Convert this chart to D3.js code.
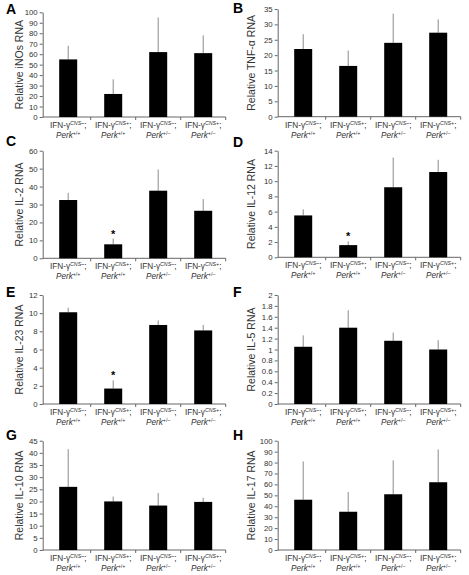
<!DOCTYPE html>
<html><head><meta charset="utf-8">
<script src="https://cdn.jsdelivr.net/npm/d3@7"></script>
<style>
html,body{margin:0;padding:0;background:#fff;}
svg{display:block;font-family:"Liberation Sans",Arial,Helvetica,sans-serif;}
</style></head>
<body>
<svg id="chart" width="469" height="575"></svg>
<script>
// ---- data ----
const categories = ["g1","g2","g3","g4"];
const cnsLabels = ["CNS–","CNS+","CNS–","CNS+"];
const perkLabels = ["+/+","+/+","+/–","+/–"];
const panelLetters = ["A","B","C","D","E","F","G","H"];
const yTitles = ["Relative iNOs RNA","Relative TNF-α RNA","Relative IL-2 RNA","Relative IL-12 RNA",
                 "Relative IL-23 RNA","Relative IL-5 RNA","Relative IL-10 RNA","Relative IL-17 RNA"];
const yMaxes = [100,35,60,14,12,2,45,100];
const ySteps = [10,5,10,2,2,0.2,5,10];
const iNOsMean = [55,22,62,61];        const iNOsTop = [68,36,95,78];
const tnfMean = [22,16.5,24,27.3];     const tnfTop = [26.8,21.5,33.5,31.6];
const il2Mean = [32.5,7.8,37.7,26.5];  const il2Top = [36.5,11,49.5,33];
const il12Mean = [5.5,1.6,9.2,11.2];   const il12Top = [6.3,2.1,13.1,12.8];
const il23Mean = [10.1,1.7,8.7,8.1];   const il23Top = [10.6,2.6,9.2,8.7];
const il5Mean = [1.05,1.4,1.16,1.0];   const il5Top = [1.26,1.72,1.31,1.17];
const il10Mean = [26,20,18.3,19.8];    const il10Top = [41.5,22,23.5,21.5];
const il17Mean = [46,35,51,62];        const il17Top = [81,53,82,92];
const means = [iNOsMean,tnfMean,il2Mean,il12Mean,il23Mean,il5Mean,il10Mean,il17Mean];
const errTops = [iNOsTop,tnfTop,il2Top,il12Top,il23Top,il5Top,il10Top,il17Top];
const significant = [[],[],["g2"],["g2"],["g2"],[],[],[]];

// ---- layout ----
const axisXs = [42.7, 277.7];
const titleXs = [19, 251];
const letterXs = [6, 233];
const yTops = [12.3, 9, 150.7, 150.7, 295, 295, 440.7, 440.7];
const yBottoms = [117, 116.7, 258.3, 257.3, 404, 404, 550, 550];
const letterYs = [14, 13, 146, 147, 297, 297, 440, 440];

const svg = d3.select("#chart");
const textColor = "#333";
const axisColor = "#666";

panelLetters.forEach((letter, i) => {
  const col = i % 2;
  const x0 = axisXs[col];
  const g = svg.append("g");
  const y = d3.scaleLinear().domain([0, yMaxes[i]]).range([yBottoms[i], yTops[i]]);
  const x = d3.scaleBand().domain(categories).range([x0 + 3, x0 + 183]).padding(0);
  const nT = Math.round(yMaxes[i] / ySteps[i]);
  const tickVals = d3.range(nT + 1).map(k => Math.round(k * ySteps[i] * 1000) / 1000);

  // y axis
  const ya = g.append("g").attr("transform", `translate(${x0},0)`)
    .call(d3.axisLeft(y).tickValues(tickVals).tickSize(3).tickSizeOuter(0).tickPadding(2)
      .tickFormat(d => String(d)));
  ya.select(".domain").attr("stroke", axisColor);
  ya.selectAll(".tick line").attr("stroke", axisColor);
  ya.selectAll(".tick text").attr("fill", textColor).style("font-size", "7.8px")
    .style("font-family", "'Liberation Sans',Arial,sans-serif");

  // x axis line and dividers
  g.append("line").attr("x1", x0).attr("x2", x(categories[3]) + x.step())
    .attr("y1", yBottoms[i]).attr("y2", yBottoms[i]).attr("stroke", axisColor);
  g.selectAll("line.div").data(categories).enter().append("line")
    .attr("x1", d => x(d) + x.step()).attr("x2", d => x(d) + x.step())
    .attr("y1", yBottoms[i]).attr("y2", yBottoms[i] + 3).attr("stroke", axisColor);

  const bw = x.bandwidth() * 0.4;
  const cx = d => x(d) + x.bandwidth() / 2;
  // error bars
  g.selectAll("line.err").data(categories).enter().append("line")
    .attr("x1", cx).attr("x2", cx)
    .attr("y1", (d, k) => y(means[i][k])).attr("y2", (d, k) => y(errTops[i][k]))
    .attr("stroke", "#8a8a8a").attr("stroke-width", 1);
  // bars
  g.selectAll("rect").data(categories).enter().append("rect")
    .attr("x", d => cx(d) - bw / 2).attr("width", bw)
    .attr("y", (d, k) => y(means[i][k]))
    .attr("height", (d, k) => yBottoms[i] - y(means[i][k]))
    .attr("fill", "#000");
  // significance stars
  g.selectAll("text.star").data(significant[i]).enter().append("text")
    .attr("x", d => cx(d)).attr("y", d => y(errTops[i][categories.indexOf(d)]) - 1)
    .attr("text-anchor", "middle").style("font-size", "11px").style("font-weight", "bold")
    .text("*");

  // x tick labels
  categories.forEach((c, k) => {
    const t1 = g.append("text").attr("x", cx(c)).attr("y", yBottoms[i] + 11)
      .attr("text-anchor", "middle").attr("fill", textColor).style("font-size", "8.2px");
    t1.append("tspan").text("IFN-γ");
    t1.append("tspan").attr("dy", -3).style("font-size", "5.3px").style("font-style", "italic").text(cnsLabels[k]);
    t1.append("tspan").attr("dy", 3).text(";");
    const t2 = g.append("text").attr("x", cx(c)).attr("y", yBottoms[i] + 21)
      .attr("text-anchor", "middle").attr("fill", textColor).style("font-size", "8.2px");
    t2.append("tspan").style("font-style", "italic").text("Perk");
    t2.append("tspan").attr("dy", -3).style("font-size", "5.3px").text(perkLabels[k]);
  });

  // y title
  g.append("text")
    .attr("transform", `translate(${titleXs[col]},${(yTops[i] + yBottoms[i]) / 2}) rotate(-90)`)
    .attr("text-anchor", "middle").attr("dy", "0.35em").attr("fill", textColor)
    .style("font-size", "10.5px").text(yTitles[i]);

  // panel letter
  svg.append("text").attr("x", letterXs[col]).attr("y", letterYs[i])
    .style("font-size", "14px").style("font-weight", "bold").attr("fill", "#000").text(letter);
});
</script>
</body></html>
